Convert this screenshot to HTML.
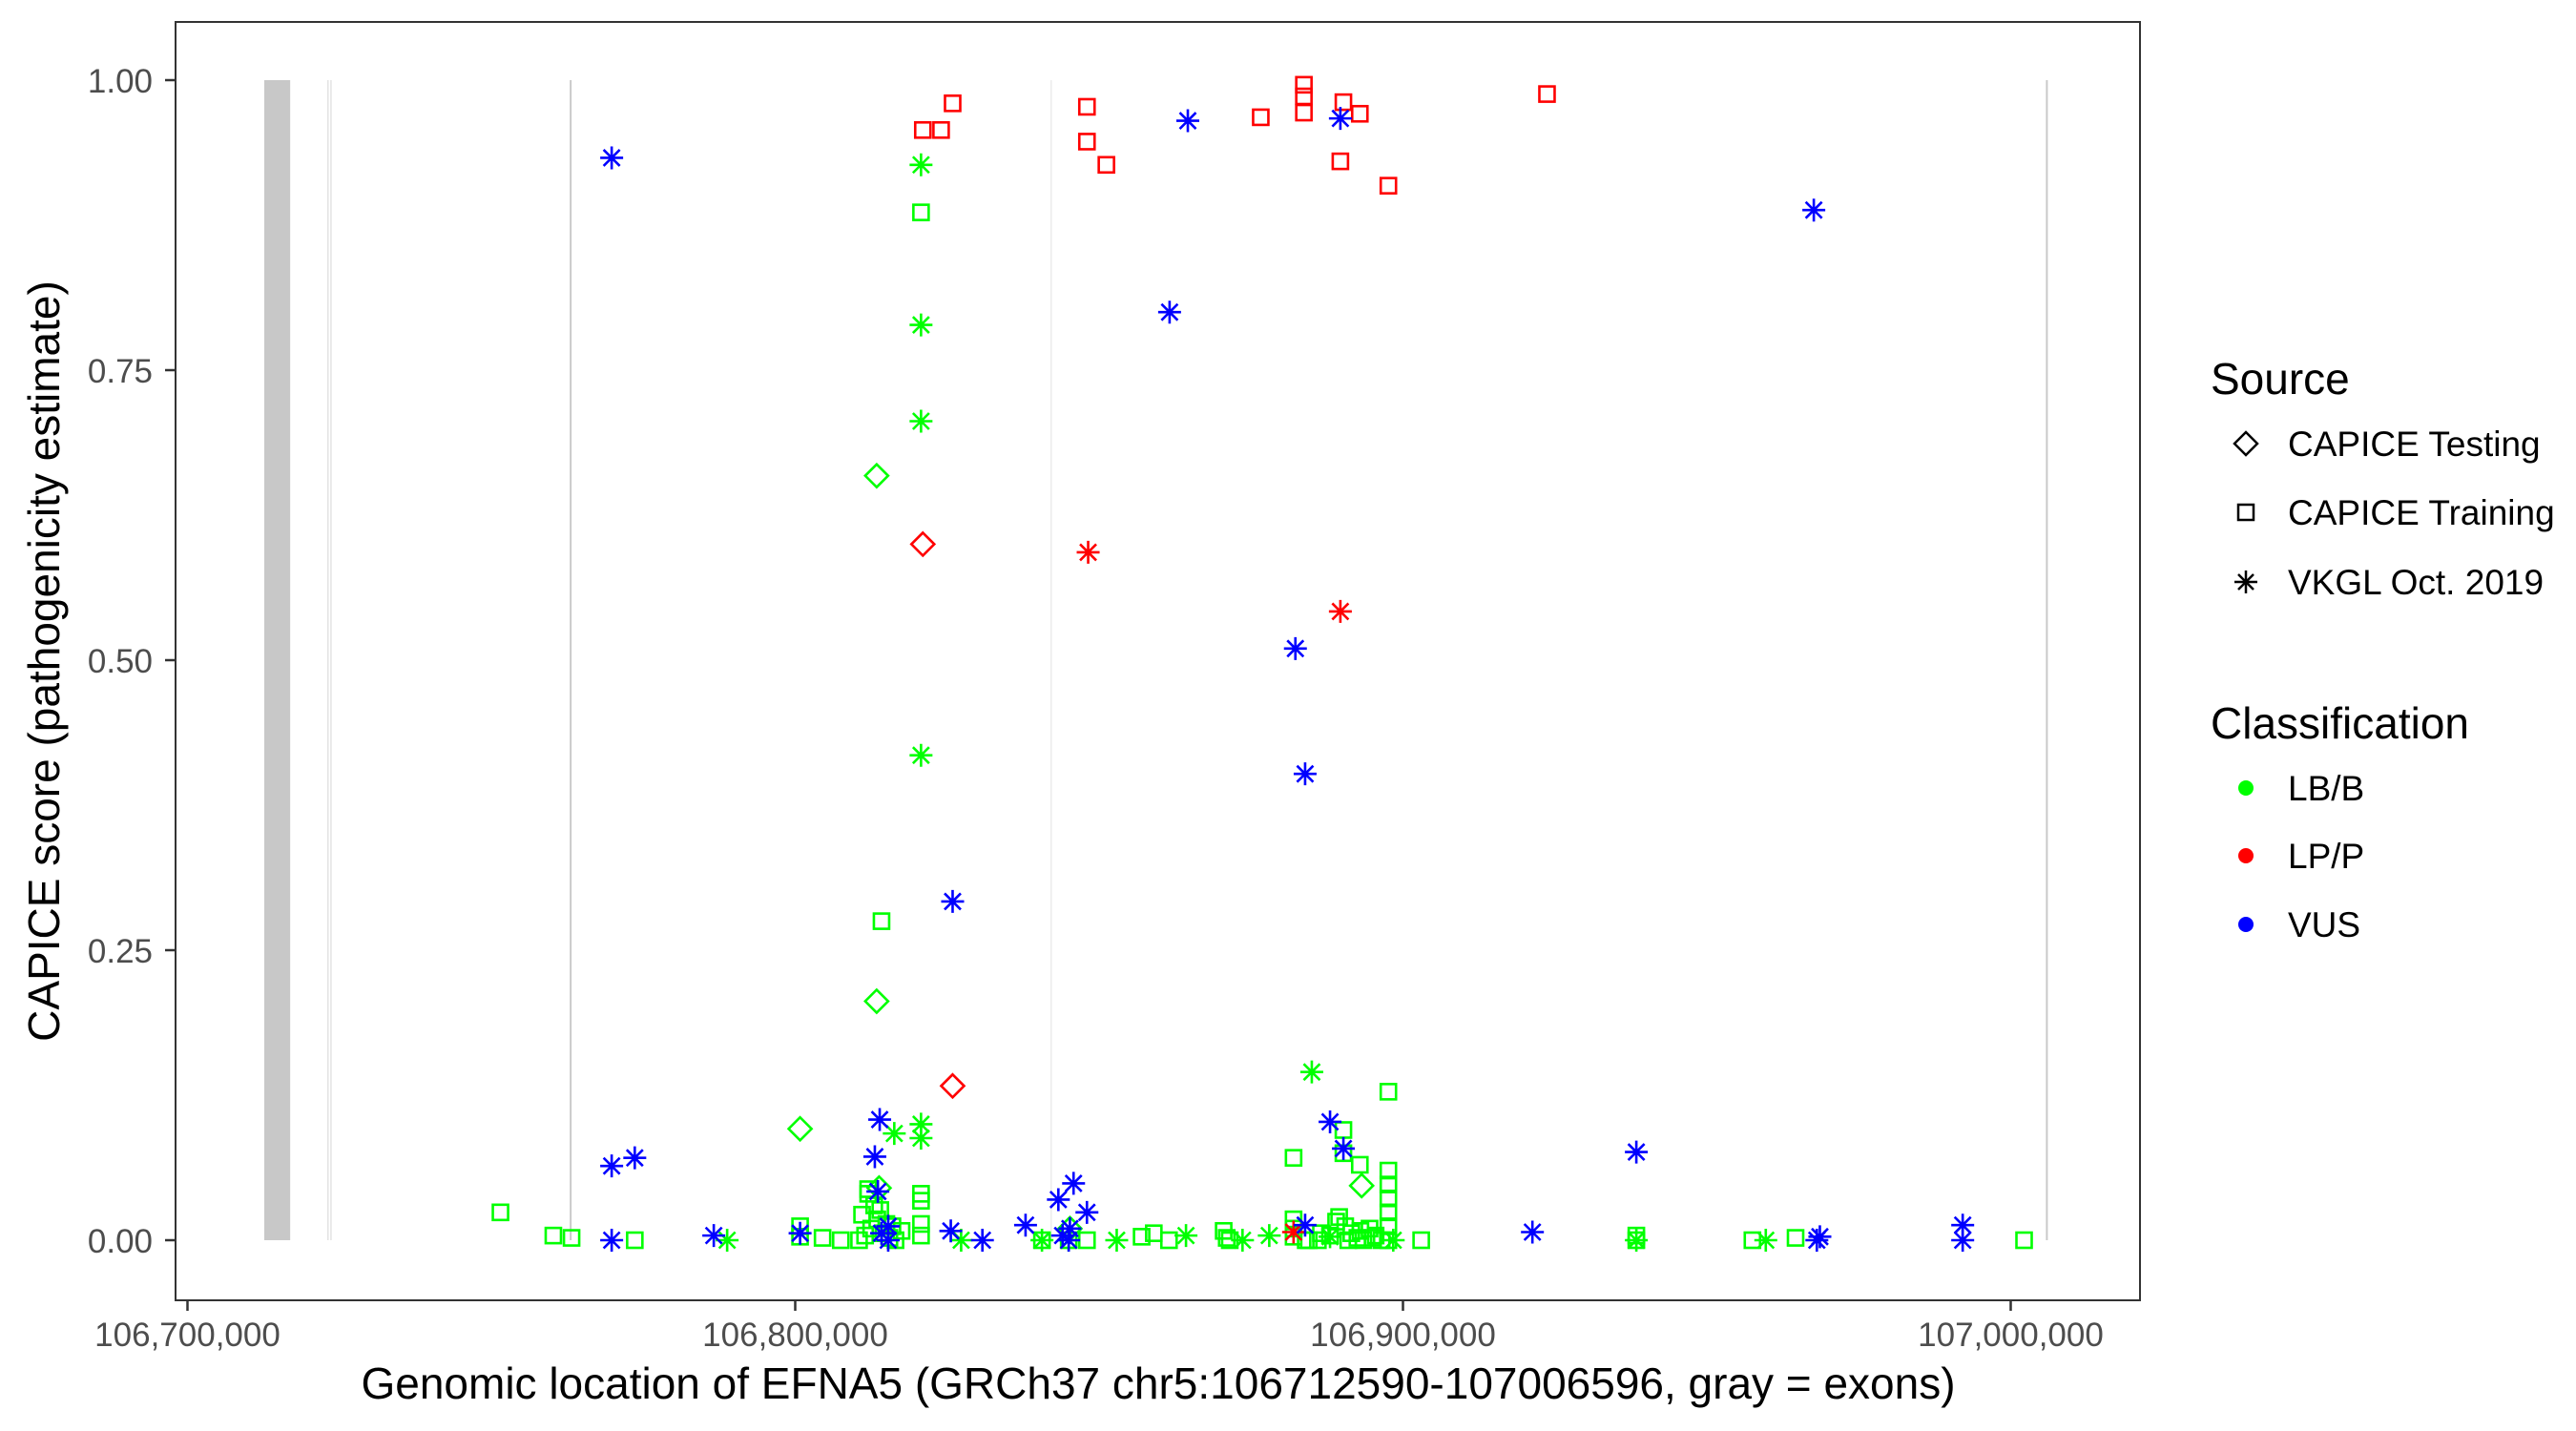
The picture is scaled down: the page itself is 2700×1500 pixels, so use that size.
<!DOCTYPE html>
<html><head><meta charset="utf-8"><style>
html,body{margin:0;padding:0;background:#fff;}
svg{display:block;font-family:"Liberation Sans",Arial,sans-serif;}
</style></head><body>
<svg id="chart" width="2700" height="1500" viewBox="0 0 2700 1500" xmlns="http://www.w3.org/2000/svg">
<rect x="0" y="0" width="2700" height="1500" fill="#fff"/>
<g id="exons"></g>
<g id="marks"></g>
<rect x="184" y="23" width="2059" height="1340" fill="none" stroke="#333" stroke-width="2"/>
<g id="axes"></g>
<text x="1214" y="1466" font-size="46" text-anchor="middle" fill="#000">Genomic location of EFNA5 (GRCh37 chr5:106712590-107006596, gray = exons)</text>
<text transform="translate(62,693) rotate(-90)" font-size="46" text-anchor="middle" fill="#000">CAPICE score (pathogenicity estimate)</text>
<g>
<text x="2317" y="413" font-size="46" fill="#000">Source</text>
<path d="M2354 453 L2366 465 L2354 477 L2342 465 Z" fill="none" stroke="#000" stroke-width="2.5"/>
<text x="2398" y="478" font-size="37" fill="#000">CAPICE Testing</text>
<rect x="2346" y="529" width="16" height="16" fill="none" stroke="#000" stroke-width="2.5"/>
<text x="2398" y="550" font-size="37" fill="#000">CAPICE Training</text>
<g stroke="#000" stroke-width="2.5"><line x1="2354" y1="598" x2="2354" y2="622"/><line x1="2342" y1="610" x2="2366" y2="610"/><line x1="2346" y1="602" x2="2362" y2="618"/><line x1="2346" y1="618" x2="2362" y2="602"/></g>
<text x="2398" y="623" font-size="37" fill="#000">VKGL Oct. 2019</text>
<text x="2317" y="774" font-size="46" fill="#000">Classification</text>
<circle cx="2354" cy="826" r="8" fill="#00ff00"/>
<text x="2398" y="839" font-size="37" fill="#000">LB/B</text>
<circle cx="2354" cy="897" r="8" fill="#ff0000"/>
<text x="2398" y="910" font-size="37" fill="#000">LP/P</text>
<circle cx="2354" cy="969" r="8" fill="#0000ff"/>
<text x="2398" y="982" font-size="37" fill="#000">VUS</text>
</g>
</svg>
<script>
const xTicks = [106700000, 106800000, 106900000, 107000000];
const xTickLabels = ["106,700,000", "106,800,000", "106,900,000", "107,000,000"];
const yTicks = [0, 0.25, 0.5, 0.75, 1];
const yTickLabels = ["0.00", "0.25", "0.50", "0.75", "1.00"];
const exonStart = [106712640, 106723000, 106723500, 106762900, 106842000, 107005800];
const exonEnd = [106716900, 106723200, 106723700, 106763200, 106842150, 107006100];
const exonShade = ["#c8c8c8", "#e3e3e3", "#e3e3e3", "#c8c8c8", "#ececec", "#c8c8c8"];

// Training (squares)
const trainLPx = [106821000,106824000,106825900,106848000,106848000,106851200,106876600,106883700,106883700,106883700,106890200,106892900,106889700,106897600,106923700];
const trainLPy = [0.957,0.957,0.980,0.977,0.947,0.927,0.968,0.996,0.986,0.972,0.981,0.971,0.930,0.909,0.988];
const trainLBx = [106820700,106814200,106897600,106882000,106890200,106890200,106892900,106897600,106897600,106897600,106897600,106897600,106820700,106820700,106812000,106751500,106760200,106763200,106773600,106800800,106800800,106804500,106807500,106810500,106811500,106812500,106813500,106814500,106815500,106816500,106811000,106813000,106815000,106817500,106812000,106814000,106816000,106820700,106820700,106840600,106845000,106848000,106857000,106859000,106861500,106870500,106871000,106871500,106882000,106882000,106882000,106884000,106886000,106888000,106889500,106890500,106891500,106892500,106893500,106894500,106895500,106896500,106897600,106889000,106891000,106893000,106895000,106903000,106938400,106938400,106957500,106964600,107002200,106884500,106886500];
const trainLBy = [0.886,0.275,0.128,0.071,0.095,0.075,0.065,0.060,0.048,0.036,0.024,0.012,0.040,0.034,0.040,0.024,0.004,0.002,0.000,0.012,0.003,0.002,0.000,0.000,0.004,0.010,0.018,0.006,0.002,0.000,0.022,0.030,0.014,0.008,0.044,0.026,0.012,0.014,0.004,0.000,0.000,0.000,0.003,0.006,0.000,0.008,0.002,0.000,0.018,0.010,0.003,0.000,0.000,0.004,0.020,0.012,0.006,0.002,0.000,0.010,0.004,0.000,0.000,0.016,0.000,0.008,0.002,0.000,0.004,0.000,0.000,0.002,0.000,0.000,0.006];

// Testing (diamonds)
const testLPx = [106821000,106825900];
const testLPy = [0.600,0.133];
const testLBx = [106813400,106813400,106800800,106893200,106813800,106845200];
const testLBy = [0.659,0.206,0.096,0.047,0.045,0.010];

// VKGL (asterisks)
const vkglLPx = [106848200,106889700,106882000];
const vkglLPy = [0.593,0.542,0.007];
const vkglVUSx = [106769800,106864600,106889700,106861600,106967600,106882300,106883900,106825900,106813900,106888000,106769800,106773600,106938400,106813100,106890200,106813600,106845800,106843300,106848000,106837900,106845200,106845000,106815300,106815300,106814200,106883900,106769800,106786600,106800800,106825600,106830800,106921300,106968100,106968600,106992100,106992100,106844000];
const vkglVUSy = [0.933,0.965,0.967,0.800,0.888,0.510,0.402,0.292,0.104,0.102,0.064,0.071,0.076,0.072,0.079,0.042,0.049,0.035,0.024,0.013,0.010,0.000,0.012,0.000,0.006,0.013,0.000,0.004,0.006,0.008,0.000,0.007,0.000,0.003,0.013,0.000,0.004];
const vkglLBx = [106820700,106820700,106820700,106820700,106885000,106820700,106820700,106816300,106788800,106852900,106864300,106873600,106827300,106840600,106959700,106938400,106898400,106878000,106888000,106845000];
const vkglLBy = [0.927,0.789,0.706,0.418,0.145,0.100,0.088,0.092,0.000,0.000,0.004,0.000,0.000,0.000,0.000,0.000,0.000,0.004,0.003,0.000];

const NS = "http://www.w3.org/2000/svg";
const X0 = 106700000, PX0 = 196.5, PXPER = 637/100000;
const Y0PX = 1300, YPER = 1216;
function sx(v){ return PX0 + (v - X0) * PXPER; }
function sy(v){ return Y0PX - v * YPER; }
function mk(tag, attrs, parent){ const e = document.createElementNS(NS, tag); for (const k in attrs) e.setAttribute(k, attrs[k]); parent.appendChild(e); return e; }

const exG = document.getElementById('exons');
for (let i = 0; i < exonStart.length; i++){
  const x1 = sx(exonStart[i]), x2 = sx(exonEnd[i]);
  const r = mk('rect', {x: x1, y: sy(1), width: Math.max(1.5, x2 - x1), height: sy(0) - sy(1), fill: exonShade[i]}, exG);
  
  
}

const ax = document.getElementById('axes');
for (let i = 0; i < xTicks.length; i++){
  const x = sx(xTicks[i]);
  const l = mk('line', {x1: x, x2: x, y1: 1363, y2: 1374, stroke: '#333', 'stroke-width': 2.5}, ax);
  
  
  const t = mk('text', {x: x, y: 1411, 'font-size': 35, 'text-anchor': 'middle', fill: '#4d4d4d'}, ax);
  t.textContent = xTickLabels[i];
  
  
}
for (let i = 0; i < yTicks.length; i++){
  const y = sy(yTicks[i]);
  const l = mk('line', {x1: 173, x2: 184, y1: y, y2: y, stroke: '#333', 'stroke-width': 2.5}, ax);
  
  
  const t = mk('text', {x: 160, y: y + 13, 'font-size': 35, 'text-anchor': 'end', fill: '#4d4d4d'}, ax);
  t.textContent = yTickLabels[i];
  
  
}

const mg = document.getElementById('marks');
function square(x, y, c){
  const e = mk('rect', {x: sx(x) - 8, y: sy(y) - 8, width: 16, height: 16, fill: 'none', stroke: c, 'stroke-width': 2.6}, mg);
  
  
}
function diamond(x, y, c){
  const cx = sx(x), cy = sy(y);
  const e = mk('path', {d: `M${cx} ${cy-12} L${cx+12} ${cy} L${cx} ${cy+12} L${cx-12} ${cy} Z`, fill: 'none', stroke: c, 'stroke-width': 2.6}, mg);
  
  
}
function star(x, y, c){
  const cx = sx(x), cy = sy(y), r = 12, d = 8.5;
  const e = mk('path', {d: `M${cx} ${cy-r}V${cy+r}M${cx-r} ${cy}H${cx+r}M${cx-d} ${cy-d}L${cx+d} ${cy+d}M${cx-d} ${cy+d}L${cx+d} ${cy-d}`, fill: 'none', stroke: c, 'stroke-width': 2.6}, mg);
  
  
}
const G = '#00ff00', R = '#ff0000', B = '#0000ff';
trainLBx.forEach((v,i) => square(v, trainLBy[i], G));
trainLPx.forEach((v,i) => square(v, trainLPy[i], R));
testLBx.forEach((v,i) => diamond(v, testLBy[i], G));
testLPx.forEach((v,i) => diamond(v, testLPy[i], R));
vkglLBx.forEach((v,i) => star(v, vkglLBy[i], G));
vkglLPx.forEach((v,i) => star(v, vkglLPy[i], R));
vkglVUSx.forEach((v,i) => star(v, vkglVUSy[i], B));
</script>
</body></html>
